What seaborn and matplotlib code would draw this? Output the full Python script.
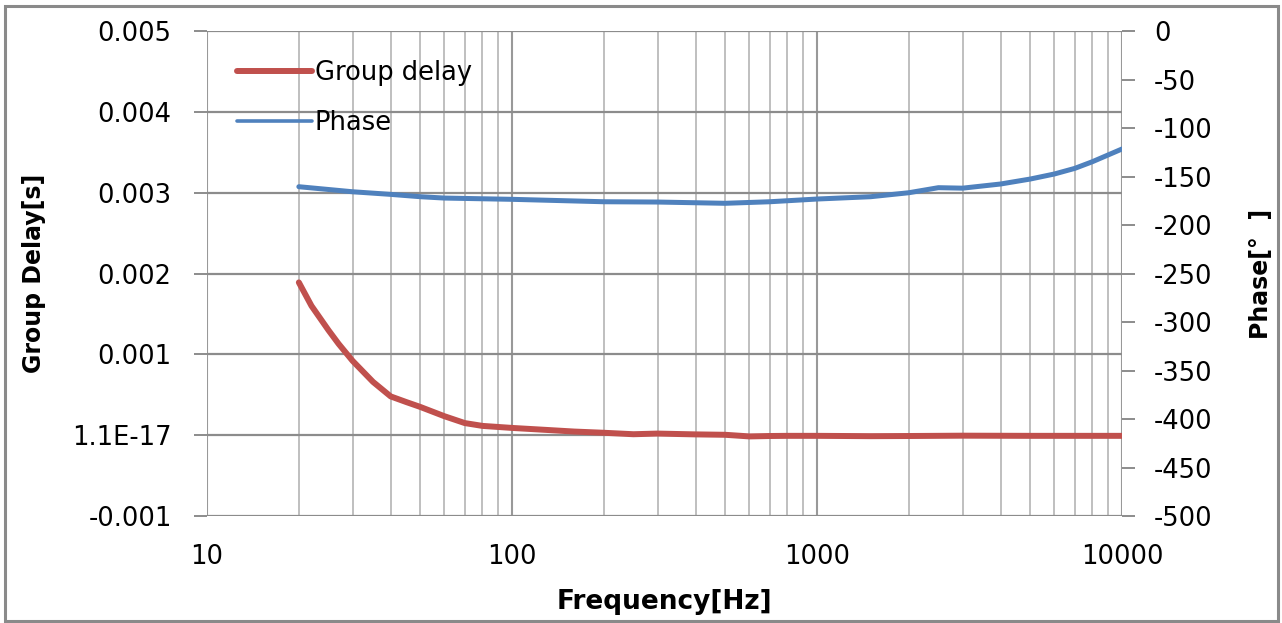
import numpy as np
import pandas as pd
import seaborn as sns
import matplotlib.pyplot as plt
from matplotlib.patches import Rectangle

# Group delay curve
gd_freq = [20, 22, 25, 27, 30, 35, 40, 45, 50, 60, 70, 80, 100, 130, 160, 200,
           250, 300, 400, 500, 600, 700, 800, 1000, 1500, 2000, 3000, 5000,
           7000, 10000]
gd_sec = [0.00189, 0.00160, 0.00130, 0.00113, 0.00092, 0.00066, 0.00048,
          0.00041, 0.00035, 0.000235, 0.00015, 0.000115, 0.00009, 0.000065,
          0.000045, 0.00003, 0.000012, 0.00002, 0.00001, 0.000005,
          -0.000015, -0.00001, -0.000008, -0.000008, -0.000012, -0.00001,
          -0.000006, -0.000008, -0.000008, -0.000008]

# Phase curve
ph_freq = [20, 30, 40, 50, 60, 100, 200, 300, 500, 700, 1000, 1500, 2000,
           2500, 3000, 4000, 5000, 6000, 7000, 8000, 10000]
ph_deg = [-160.5, -165.7, -168.4, -170.8, -172.2, -173.5, -176.0, -176.3,
          -177.6, -176.0, -173.2, -170.8, -166.7, -161.5, -162.0, -157.7,
          -152.6, -147.4, -141.6, -134.7, -121.6]

left_ticks = [-0.001, 0.0, 0.001, 0.002, 0.003, 0.004, 0.005]
left_labels = ['-0.001', '1.1E-17', '0.001', '0.002', '0.003', '0.004', '0.005']
right_ticks = list(range(-500, 1, 50))
x_ticks = [10, 100, 1000, 10000]
x_labels = ['10', '100', '1000', '10000']

RED = '#C0504D'
BLUE = '#4F81BD'

sns.set_style('white')
plt.rcParams['font.family'] = ['DejaVu Sans']
plt.rcParams['axes.unicode_minus'] = False
plt.rcParams['text.color'] = 'black'
plt.rcParams['axes.labelcolor'] = 'black'
plt.rcParams['xtick.color'] = 'black'
plt.rcParams['ytick.color'] = 'black'

df_gd = pd.DataFrame({'Frequency': gd_freq, 'GroupDelay': gd_sec})
df_ph = pd.DataFrame({'Frequency': ph_freq, 'Phase': ph_deg})

fig = plt.figure(figsize=(12.82, 6.23), dpi=100)
ax = fig.add_axes([0.1615, 0.1717, 0.8752 - 0.1615, 0.7785])
ax2 = ax.twinx()

sns.lineplot(data=df_gd, x='Frequency', y='GroupDelay', ax=ax, color=RED,
             linewidth=4.3, label='Group delay', legend=False)
sns.lineplot(data=df_ph, x='Frequency', y='Phase', ax=ax2, color=BLUE,
             linewidth=3.6, label='Phase', legend=False)
for a in (ax, ax2):
    for ln in a.get_lines():
        ln.set_solid_joinstyle('round')
        ln.set_solid_capstyle('round')

ax.set_xscale('log')
ax.set_xlim(10, 10000)
ax.set_ylim(-0.001, 0.005)
ax2.set_ylim(-500, 0)

ax.set_xticks(x_ticks)
ax.set_xticklabels(x_labels)
ax.set_yticks(left_ticks)
ax.set_yticklabels(left_labels)
ax2.set_yticks(right_ticks)

# grid: all decades and sub-decades vertically, left ticks horizontally
ax.grid(which='minor', axis='x', color='#bababa', linewidth=1.3)
ax.grid(which='major', axis='x', color='#999999', linewidth=1.5)
ax.grid(which='major', axis='y', color='#8c8c8c', linewidth=1.6)
ax.set_axisbelow(True)

for a in (ax, ax2):
    for s in a.spines.values():
        s.set_visible(False)

ax.tick_params(axis='x', which='both', length=0, pad=20, labelsize=18.5)
ax.tick_params(axis='y', length=9.5, width=1.4, color='#8c8c8c', pad=16,
               labelsize=18.5)
ax2.tick_params(axis='y', length=9, width=1.4, color='#8c8c8c', pad=14,
                labelsize=18.5)

ax.set_xlabel('Frequency[Hz]', fontsize=19, fontweight='bold', labelpad=14)
ax.set_ylabel('Group Delay[s]', fontsize=17, fontweight='bold', labelpad=19)
ax2.set_ylabel('Phase[°  ]', fontsize=17, fontweight='bold', labelpad=26)

# legend with handles from both axes
h1, l1 = ax.get_legend_handles_labels()
h2, l2 = ax2.get_legend_handles_labels()
leg = ax.legend(h1 + h2, l1 + l2, loc='upper left', frameon=False,
                fontsize=18.5, handlelength=2.9, handletextpad=0.1,
                labelspacing=0.95, bbox_to_anchor=(0.022, 0.962),
                borderaxespad=0)
leg.get_lines()[1].set_linewidth(2.6)

# thin gray frame around the whole picture
fig.patches.append(Rectangle((0.004, 0.003), 0.993, 0.988,
                             transform=fig.transFigure, fill=False,
                             edgecolor='#8a8a8a', linewidth=2.2))

fig.savefig('out.png', dpi=100)
